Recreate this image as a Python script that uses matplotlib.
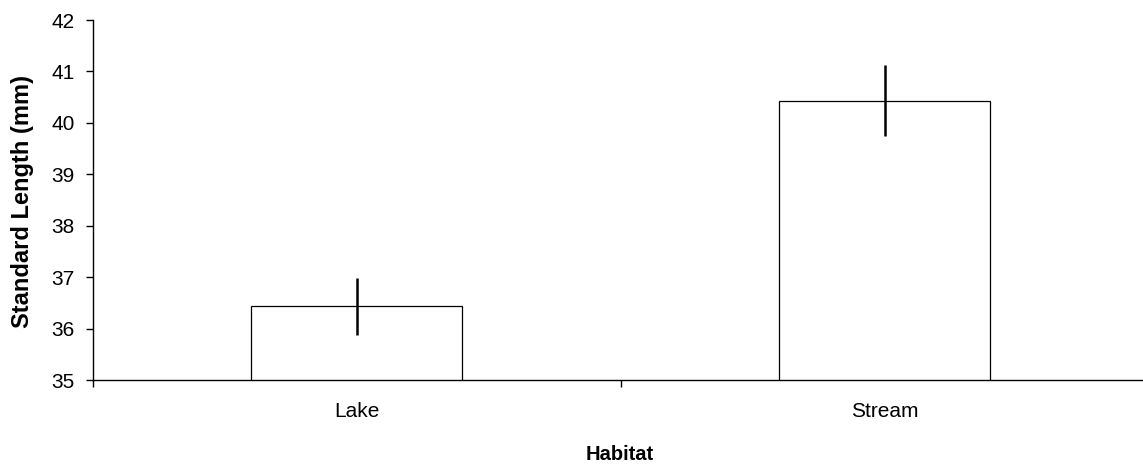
import numpy as np
import matplotlib
matplotlib.use("Agg")
import matplotlib.pyplot as plt

plt.rcParams['font.family'] = ['Liberation Sans', 'DejaVu Sans']

habitats = ["Lake", "Stream"]
mean_length = [36.43, 40.43]
se_length = [0.55, 0.69]

W, H = 1143, 473
fig = plt.figure(figsize=(W / 100, H / 100), dpi=100)
ax = fig.add_axes([92.75 / W, (H - 380) / H, 1056 / W, 360 / H])

x = np.arange(len(habitats))
ax.bar(x, mean_length, width=0.4, bottom=0, color='white',
       edgecolor='black', linewidth=0.9, zorder=2)
ax.errorbar(x, mean_length, yerr=se_length, fmt='none', ecolor='black',
            elinewidth=1.8, capsize=0, zorder=3)

ax.set_xlim(-0.5, len(habitats) - 0.5)
ax.set_ylim(35, 42)
ax.set_yticks(np.arange(35, 43, 1))

# category boundaries as ticks, names centered under bars
ax.set_xticks(np.arange(-0.5, len(habitats), 1.0))
ax.set_xticklabels([])
ax.set_xticks(x, minor=True)
ax.set_xticklabels(habitats, minor=True)
ax.tick_params(axis='x', which='major', direction='out', length=5, width=1)
ax.tick_params(axis='x', which='minor', length=0, pad=16, labelsize=15)
ax.tick_params(axis='y', direction='out', length=5, width=1, pad=8,
               labelsize=15)

for side in ['top', 'right']:
    ax.spines[side].set_visible(False)
ax.spines['left'].set_linewidth(1)
ax.spines['bottom'].set_linewidth(1)

fig.text(23 / W, 1 - 202 / H, 'Standard Length (mm)', fontsize=17,
         fontweight='bold', rotation=90, ha='center', va='center')
fig.text(620 / W, 1 - 454 / H, 'Habitat', fontsize=14.5, fontweight='bold',
         ha='center', va='center')

fig.savefig('out.png', dpi=100)
